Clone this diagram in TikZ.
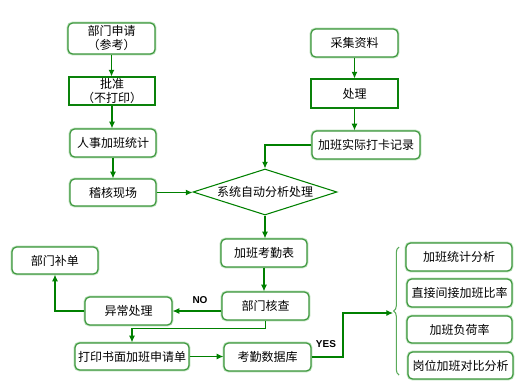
\documentclass[tikz,border=0pt]{standalone}
\usepackage{fontspec}
\setmainfont{Noto Sans CJK SC}
\newfontfamily\latinbold{Liberation Sans}
\usetikzlibrary{arrows.meta,shapes.geometric,decorations.pathreplacing}
\definecolor{rbord}{RGB}{60,150,60}
\definecolor{rhalo}{RGB}{185,225,185}
\definecolor{sbord}{RGB}{10,130,10}
\definecolor{arrc}{RGB}{0,128,0}
\definecolor{brc}{RGB}{90,170,90}
\tikzset{
  rbox/.style={draw=rbord, line width=0.9pt, rounded corners=3.5pt, fill=white,
    preaction={draw=rhalo, line width=2.2pt, rounded corners=3.5pt},
    inner sep=0pt, align=center, font=\fontsize{9}{10.5}\selectfont},
  sbox/.style={draw=sbord, line width=0.8pt, fill=white, inner sep=0pt, align=center,
    font=\fontsize{9}{10.2}\selectfont},
  dbox/.style={draw=arrc, line width=0.8pt, diamond, shape aspect=3.1, inner sep=0pt,
    font=\fontsize{9}{10.5}\selectfont},
  arr/.style={draw=arrc, line width=0.8pt, -{Latex[length=5pt,width=4.5pt]}},
  lbl/.style={font=\latinbold\bfseries\fontsize{7.5}{8}\selectfont, inner sep=0pt}
}
\begin{document}
\begin{tikzpicture}[x=0.75pt,y=-0.75pt]
\useasboundingbox (0,0) rectangle (532,387);
% left column
\node[rbox, minimum width=65.25pt, minimum height=23.25pt] (a1) at (111.5,38.5) {部门申请\\（参考）};
\node[sbox, minimum width=64.5pt, minimum height=21pt] (a2) at (112,91) {批准\\（不打印）};
\node[rbox, minimum width=64.5pt, minimum height=21pt] (a3) at (113,143) {人事加班统计};
\node[rbox, minimum width=64.5pt, minimum height=20.25pt] (a4) at (113,192.5) {稽核现场};
% right column
\node[rbox, minimum width=65.25pt, minimum height=21pt] (b1) at (354.5,43) {采集资料};
\node[sbox, minimum width=65.25pt, minimum height=21.75pt] (b2) at (354.5,93.5) {处理};
\node[rbox, minimum width=81pt, minimum height=21pt] (b3) at (366,145) {加班实际打卡记录};
% diamond
\node[dbox, minimum width=108pt, minimum height=34.5pt] (d) at (265,192) {系统自动分析处理};
% middle
\node[rbox, minimum width=64.5pt, minimum height=21pt] (c1) at (264,253) {加班考勤表};
\node[rbox, minimum width=65.25pt, minimum height=21pt] (c2) at (265.5,306) {部门核查};
\node[rbox, minimum width=65.25pt, minimum height=21pt] (e1) at (128.5,311) {异常处理};
\node[rbox, minimum width=64.5pt, minimum height=20.25pt] (e2) at (55,260.5) {部门补单};
\node[rbox, minimum width=85.5pt, minimum height=20.25pt] (f1) at (132,356.5) {打印书面加班申请单};
\node[rbox, minimum width=65.25pt, minimum height=21pt] (f2) at (267.5,357) {考勤数据库};
% results
\node[rbox, minimum width=79.5pt, minimum height=21pt] (r1) at (459,257) {加班统计分析};
\node[rbox, minimum width=78.75pt, minimum height=21pt] (r2) at (459.5,293) {直接间接加班比率};
\node[rbox, minimum width=78.75pt, minimum height=20.25pt] (r3) at (459.5,329.5) {加班负荷率};
\node[rbox, minimum width=78.75pt, minimum height=20.25pt] (r4) at (460.5,365.5) {岗位加班对比分析};
% labels
\node[lbl] (no) at (200,300) {NO};
\node[lbl] (yes) at (326,344) {YES};
% brace
\coordinate (bb) at (399,375);
\coordinate (bt2) at (399,247);
\coordinate (tip) at (393,313);
\coordinate (k) at (343,313);
\draw[brc, line width=0.8pt, decorate, decoration={brace, amplitude=4pt}] (bb) -- (bt2);
% connectors
\draw[arr] (a1.south) -- (a1.south |- a2.north);
\draw[arr] (a2.south) -- (a2.south |- a3.north);
\draw[arr] (a3.south) -- (a3.south |- a4.north);
\draw[arr] (a4.east) -- (a4.east -| d.west);
\draw[arr] (b1.south) -- (b1.south |- b2.north);
\draw[arr] (b2.south) -- (b2.south |- b3.north);
\draw[arr] (b3.west) -| (d.north);
\draw[arr] (d.south) -- (d.south |- c1.north);
\draw[arr] (c1.south) -- (c1.south |- c2.north);
\draw[arr] (c2.west |- e1.east) -- (e1.east);
\draw[arr] (e1.west) -| (e2.south);
\draw[arr] (c2.south) -- ++(0,8) -| (f1.north);
\draw[arr] (f1.east) -- (f1.east -| f2.west);
\draw[arr] (f2.east) -| (k) -- (tip);
\end{tikzpicture}
\end{document}
